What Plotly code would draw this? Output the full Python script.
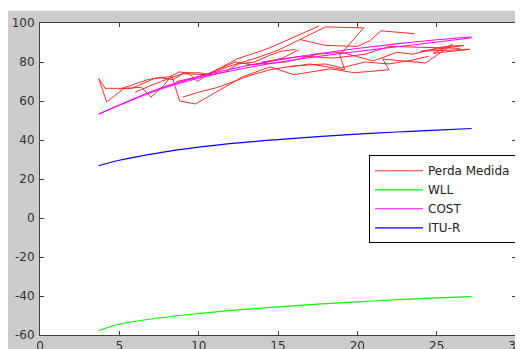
import plotly.graph_objects as go

# Measured loss (several drive-test runs, separated by None)
perda_x = [3.7, 4.2, 5.3, 6.4, 7.0, 7.8, 8.3, 8.8, 9.8, 11.2, 12.8, 14.5, 16.0, 18.3, 19.8, 22.0, 21.6, 24.3, 26.0, 24.8, 27.1, None,
           3.7, 4.1, 5.8, 7.2, 8.2, 8.8, 9.4, 9.9, 10.9, 12.4, 14.4, 17.6, None,
           6.0, 7.6, 9.0, 10.5, 12.0, 13.6, 15.0, 16.4, 18.0, 20.4, 18.9, 19.2, 17.0, 15.8, None,
           8.6, 10.3, 12.3, 13.5, 15.3, 16.3, None,
           13.0, 15.5, 17.5, 19.0, 21.0, 22.5, 23.5, 25.5, 26.7, 24.0, 27.1, None,
           16.4, 18.0, 20.0, 20.8, 21.5, 23.6, None,
           14.0, 16.5, 18.5, 20.5, 22.0, 24.0, 26.5, None,
           5.0, 6.0, 6.8, 7.5, 8.4, 9.1, 10.0, 10.8, 11.7, 12.5, 13.5, 14.5, 15.2, 16.1, None,
           9.0, 10.0, 11.2, 12.2, 13.2, 14.5, 16.0, 18.0, 19.0, 20.5, 22.0, 23.5, 24.5]
perda_y = [71.5, 59.5, 66.5, 67.0, 62.0, 68.0, 73.0, 60.0, 58.5, 65.0, 72.5, 77.5, 73.5, 76.5, 74.5, 76.0, 81.5, 79.5, 89.0, 84.5, 86.5, None,
           71.5, 66.5, 66.5, 71.5, 72.5, 75.0, 74.0, 70.0, 75.0, 81.5, 87.0, 98.5, None,
           64.5, 70.0, 74.0, 73.5, 78.0, 82.0, 86.0, 91.5, 98.0, 97.5, 83.5, 76.0, 79.0, 77.5, None,
           70.0, 73.0, 80.0, 78.5, 82.0, 86.3, None,
           78.5, 80.0, 84.0, 85.0, 80.5, 85.0, 84.0, 88.0, 88.5, 85.5, 86.5, None,
           91.5, 88.5, 88.0, 91.0, 96.0, 94.5, None,
           80.0, 83.0, 82.0, 84.0, 88.0, 87.5, 87.0, None,
           66.0, 69.0, 71.0, 72.0, 71.0, 74.5, 74.5, 73.5, 75.0, 79.0, 80.0, 83.5, 85.5, 86.5, None,
           62.0, 64.5, 67.0, 70.0, 73.0, 76.0, 78.0, 79.0, 77.0, 80.0, 79.0, 81.0, 83.0]

# Model curves
dist = [3.7, 5.0, 7.5, 10.0, 12.5, 15.0, 17.5, 20.0, 22.5, 25.0, 27.2]
wll = [-57.8, -54.5, -51.3, -49.0, -47.1, -45.6, -44.2, -43.0, -41.9, -41.0, -40.3]
cost = [53.3, 58.0, 66.3, 72.5, 77.2, 81.0, 84.2, 86.9, 89.3, 91.4, 92.8]
cost_b = [53.3, 57.8, 65.8, 71.7, 76.2, 79.8, 82.8, 85.4, 87.8, 90.2, 92.4]
itu = [26.8, 29.6, 33.4, 36.3, 38.5, 40.2, 41.7, 43.0, 44.1, 45.1, 45.9]

x_ticks = [0, 5, 10, 15, 20, 25, 30]
y_ticks = [-60, -40, -20, 0, 20, 40, 60, 80, 100]

fig = go.Figure()
fig.add_trace(go.Scatter(x=perda_x, y=perda_y, mode="lines", name="Perda Medida",
                         line=dict(color="#ff2a2a", width=1), connectgaps=False))
fig.add_trace(go.Scatter(x=dist, y=wll, mode="lines", name="WLL",
                         line=dict(color="#00ff00", width=1.2, shape="spline")))
fig.add_trace(go.Scatter(x=dist, y=cost_b, mode="lines", showlegend=False,
                         line=dict(color="#ff00ff", width=1, shape="spline")))
fig.add_trace(go.Scatter(x=dist, y=cost, mode="lines", name="COST",
                         line=dict(color="#ff00ff", width=1.1, shape="spline")))
fig.add_trace(go.Scatter(x=dist, y=itu, mode="lines", name="ITU-R",
                         line=dict(color="#0000ff", width=1.2, shape="spline")))

axis_common = dict(showgrid=False, zeroline=False, showline=True, linecolor="#404040",
                   linewidth=1, mirror="ticks", ticks="inside", ticklen=4, tickcolor="#404040",
                   automargin=False,
                   tickfont=dict(family="DejaVu Sans", size=12, color="#333333"))

fig.update_xaxes(range=[0, 30], tickvals=x_ticks, ticktext=[str(v) for v in x_ticks],
                 ticklabelstandoff=0, **axis_common)
fig.update_yaxes(range=[-60, 100], tickvals=y_ticks, ticktext=[str(v) for v in y_ticks],
                 ticklabelstandoff=2, **axis_common)

# The page body adds an 8px offset; the figure is larger than the visible window.
fig.update_layout(
    width=523, height=349,
    margin=dict(l=32, r=15, t=15.3, b=21.7),
    paper_bgcolor="#cccccc",
    plot_bgcolor="#ffffff",
    showlegend=True,
    legend=dict(x=1, y=0.576, xanchor="right", yanchor="top",
                bgcolor="#ffffff", bordercolor="#000000", borderwidth=1,
                font=dict(family="DejaVu Sans", size=12, color="#222222"),
                tracegroupgap=0, itemwidth=48),
    shapes=[
        dict(type="rect", xref="paper", yref="paper", x0=-0.2, x1=1.1, y0=1.0 + 12.3 / 312, y1=1.2,
             fillcolor="#ffffff", line=dict(width=0), layer="below"),
    ],
)

fig.write_html("out.html")
